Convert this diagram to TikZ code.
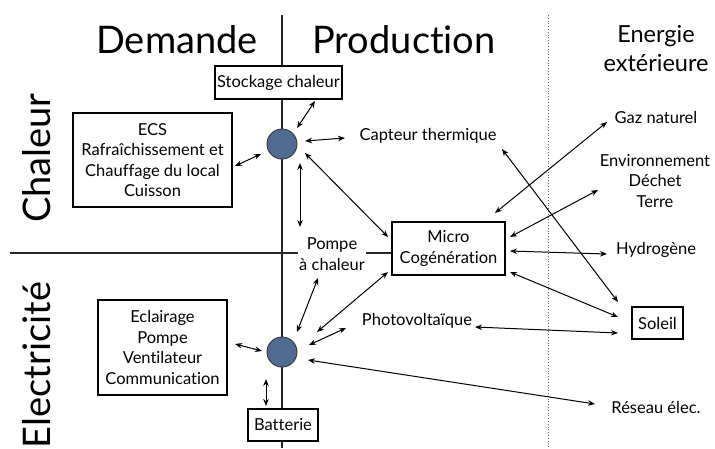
\documentclass[tikz,border=0pt]{standalone}
\usepackage{fontspec}
\setmainfont{Lato}[Ligatures=NoCommon,RawFeature={-liga;-clig;-dlig}]
\usetikzlibrary{arrows.meta,backgrounds}
\definecolor{nodeblue}{RGB}{82,106,145}
\tikzset{
  title/.style={font=\fontsize{38}{44}\selectfont, inner sep=0pt, anchor=base},
  subtitle/.style={font=\fontsize{23.5}{29}\selectfont, align=center, inner sep=0pt},
  lbl/.style={font=\fontsize{16.5}{20.5}\selectfont, align=center, inner sep=1pt},
  box/.style={lbl, draw, line width=1.4pt, fill=white},
  hub/.style={circle, draw=black!80, line width=0.9pt, fill=nodeblue, minimum size=30pt, inner sep=0pt},
  divider/.style={line width=1.1pt, black!85},
  arr/.style={line width=1pt, {Stealth[length=7pt,width=5.5pt]}-{Stealth[length=7pt,width=5.5pt]}},
}
\begin{document}
\begin{tikzpicture}[x=1pt,y=-1pt]
\useasboundingbox (0,0) rectangle (715,448);
% titles
\node[title] (dem) at (177,53) {Demande};
\node[title] (prod) at (404,53) {Production};
\node[subtitle] (ext) at (656,49) {Energie\\extérieure};
\node[title, rotate=90] (chal) at (50,158) {Chaleur};
\node[title, rotate=90] (elec) at (50,365) {Electricité};
% nodes
\node[box, minimum width=127pt, minimum height=33pt] (stock) at (278.5,82.5) {Stockage chaleur};
\node[box, minimum width=159pt, minimum height=94pt] (ecs) at (152.5,160) {ECS\\Rafraîchissement et\\Chauffage du local\\Cuisson};
\node[box, minimum width=129pt, minimum height=95pt] (ecl) at (162.5,347.5) {Eclairage\\Pompe\\Ventilateur\\Communication};
\node[box, minimum width=70pt, minimum height=32pt] (bat) at (283,425) {Batterie};
\node[box, minimum width=113pt, minimum height=53pt] (micro) at (448.5,248.5) {Micro\\Cogénération};
\node[box, minimum width=51pt, minimum height=32pt] (soleil) at (657.5,323) {Soleil};
\node[hub] (c1) at (282,144) {};
\node[hub] (c2) at (282,352) {};
\node[lbl] (capt) at (428,136) {Capteur thermique};
\node[lbl] (pompe) at (332,254) {Pompe\\à chaleur};
\node[lbl] (photo) at (417,321) {Photovoltaïque};
\node[lbl] (gaz) at (656,117) {Gaz naturel};
\node[lbl] (env) at (655,181) {Environnement\\Déchet\\Terre};
\node[lbl] (hyd) at (656,250) {Hydrogène};
\node[lbl] (reseau) at (656,407) {Réseau élec.};
% dividers
\coordinate (vtop) at (282,15);
\coordinate (vbot) at (282,448);
\coordinate (dtop) at (548,15);
\coordinate (dbot) at (548,448);
\coordinate (hleft) at (10,253);
\begin{scope}[on background layer]
\draw[divider] (vtop) -- (vbot);
\draw[line width=0.8pt, black!60, dotted] (dtop) -- (dbot);
\end{scope}
\draw[divider] (hleft) -- (hleft -| pompe.west);
\draw[divider] (hleft -| pompe.east) -- (hleft -| micro.west);
% connectors
\draw[arr] ([shift={(15,-16)}]c1.center) -- ([shift={(36.5,18.5)}]stock.center);
\draw[arr] ([shift={(82.5,6)}]ecs.center) -- ([shift={(-21,10)}]c1.center);
\draw[arr] ([shift={(23,-3)}]c1.center) -- ([shift={(-83,2)}]capt.center);
\draw[arr] ([shift={(23,9)}]c1.center) -- ([shift={(-60.5,-11.5)}]micro.center);
\draw[arr] ([shift={(18,19)}]c1.center) -- ([shift={(-32,-27)}]pompe.center);
\draw[arr] ([shift={(-14,24)}]pompe.center) -- ([shift={(15,-20)}]c2.center);
\draw[arr] ([shift={(-60.5,23.5)}]micro.center) -- ([shift={(35,-20)}]c2.center);
\draw[arr] ([shift={(-71,7)}]photo.center) -- ([shift={(27,-7)}]c2.center);
\draw[arr] ([shift={(26,8)}]c2.center) -- ([shift={(-61,-3)}]reseau.center);
\draw[arr] ([shift={(72.5,-3.5)}]ecl.center) -- ([shift={(-20,-1)}]c2.center);
\draw[arr] ([shift={(-16,27)}]c2.center) -- ([shift={(-17,-19)}]bat.center);
\draw[arr] ([shift={(46.5,-35.5)}]micro.center) -- ([shift={(-49,5)}]gaz.center);
\draw[arr] ([shift={(61.5,-11.5)}]micro.center) -- ([shift={(-57,9)}]env.center);
\draw[arr] ([shift={(74,13)}]capt.center) -- ([shift={(-39.5,-21)}]soleil.center);
\draw[arr] ([shift={(61.5,2.5)}]micro.center) -- ([shift={(-49,4)}]hyd.center);
\draw[arr] ([shift={(61.5,23.5)}]micro.center) -- ([shift={(-39.5,-6)}]soleil.center);
\draw[arr] ([shift={(58,6)}]photo.center) -- ([shift={(-39.5,10)}]soleil.center);
\end{tikzpicture}
\end{document}
